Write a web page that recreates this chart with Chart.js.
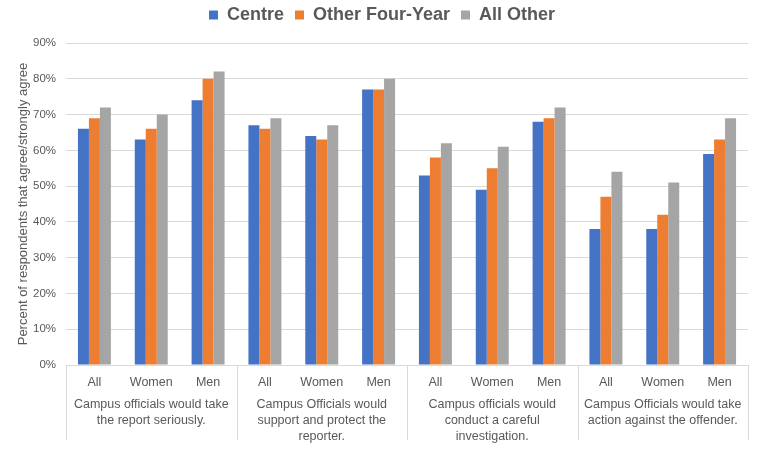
<!DOCTYPE html>
<html>
<head>
<meta charset="utf-8">
<script src="https://cdn.jsdelivr.net/npm/chart.js@4"></script>
<style>
  html, body { margin: 0; padding: 0; background: #fff; }
  #wrap { width: 768px; height: 449px; position: relative; }
</style>
</head>
<body>
<div id="wrap"><canvas id="c" width="768" height="449"></canvas></div>
<script>
const categories = ['All', 'Women', 'Men', 'All', 'Women', 'Men', 'All', 'Women', 'Men', 'All', 'Women', 'Men'];
const groups = [
  ['Campus officials would take', 'the report seriously.'],
  ['Campus Officials would', 'support and protect the', 'reporter.'],
  ['Campus officials would', 'conduct a careful', 'investigation.'],
  ['Campus Officials would take', 'action against the offender.']
];
const centre        = [66, 63, 74, 67, 64, 77, 53, 49, 68, 38, 38, 59];
const otherFourYear = [69, 66, 80, 66, 63, 77, 58, 55, 69, 47, 42, 63];
const allOther      = [72, 70, 82, 69, 67, 80, 62, 61, 72, 54, 51, 69];
const yTicks = [0, 10, 20, 30, 40, 50, 60, 70, 80, 90];

const FONT = "'Liberation Sans', Arial, sans-serif";
const TXT = '#595959';
const GRID = '#d9d9d9';

const separators = {
  id: 'separators',
  afterDraw(chart) {
    const x = chart.scales.x;
    const ctx = chart.ctx;
    const top = chart.chartArea.bottom;
    const bottom = 440;
    ctx.save();
    ctx.strokeStyle = GRID;
    ctx.lineWidth = 1;
    for (let i = 0; i <= categories.length; i += 3) {
      const px = Math.round(x.getPixelForValue(i - 0.5)) + 0.5;
      ctx.beginPath();
      ctx.moveTo(px, top);
      ctx.lineTo(px, bottom);
      ctx.stroke();
    }
    ctx.restore();
  }
};

const legendHeightFix = {
  id: 'legendHeightFix',
  beforeUpdate(chart) {
    const lg = chart.legend;
    if (lg && !lg._fitPatched) {
      const orig = lg.fit.bind(lg);
      lg.fit = function () { orig(); this.height += 9; };
      lg._fitPatched = true;
    }
  }
};

new Chart(document.getElementById('c'), {
  type: 'bar',
  data: {
    labels: categories,
    datasets: [
      { label: 'Centre', data: centre, backgroundColor: '#4472C4' },
      { label: 'Other Four-Year', data: otherFourYear, backgroundColor: '#ED7D31' },
      { label: 'All Other', data: allOther, backgroundColor: '#A5A5A5' }
    ]
  },
  options: {
    responsive: false,
    animation: false,
    devicePixelRatio: 1,
    layout: { padding: { left: 16, right: 20, top: -5, bottom: 0 } },
    datasets: { bar: { categoryPercentage: 0.58, barPercentage: 1.0 } },
    plugins: {
      legend: {
        position: 'top',
        labels: {
          boxWidth: 9, boxHeight: 9, padding: 11,
          color: TXT,
          font: { family: FONT, size: 18, weight: 'bold' }
        }
      },
      tooltip: { enabled: false }
    },
    scales: {
      y: {
        min: 0, max: 90,
        afterBuildTicks(scale) { scale.ticks = yTicks.map(v => ({ value: v })); },
        afterFit(scale) { scale.width = 50; },
        grid: { color: GRID, drawTicks: false },
        border: { display: false },
        ticks: {
          padding: 10, color: TXT,
          font: { family: FONT, size: 11.5 },
          callback: v => v + '%'
        },
        title: {
          display: true,
          text: 'Percent of respondents that agree/strongly agree',
          color: TXT,
          font: { family: FONT, size: 13 },
          padding: 0
        }
      },
      x: {
        grid: { display: false, drawTicks: false },
        border: { display: true, color: GRID },
        afterFit(scale) { scale.height = 26; },
        ticks: {
          padding: 10, color: TXT, maxRotation: 0, autoSkip: false,
          font: { family: FONT, size: 12.5 }
        }
      },
      x2: {
        type: 'category',
        position: 'bottom',
        labels: groups,
        offset: true,
        grid: { display: false, drawTicks: false },
        border: { display: false },
        afterFit(scale) { scale.height = 58; },
        ticks: {
          padding: 5, color: TXT, maxRotation: 0, autoSkip: false,
          font: { family: FONT, size: 12.5, lineHeight: 1.3 }
        }
      }
    }
  },
  plugins: [legendHeightFix, separators]
});
</script>
</body>
</html>
